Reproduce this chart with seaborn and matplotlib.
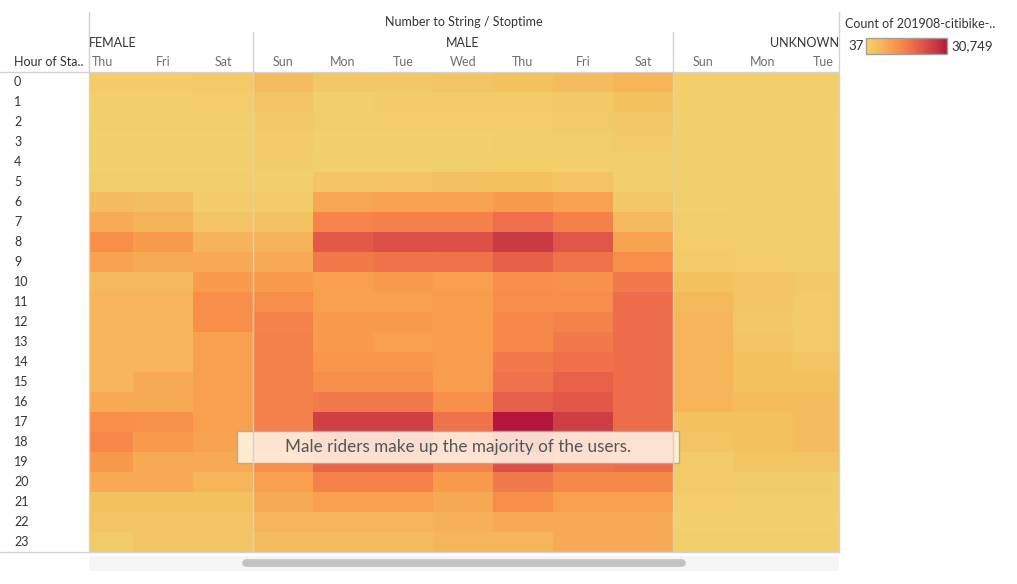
import matplotlib.pyplot as plt
import numpy as np
import pandas as pd
import seaborn as sns
from matplotlib.colors import LinearSegmentedColormap
from matplotlib.lines import Line2D
from matplotlib.patches import Rectangle

plt.rcParams['font.family'] = ['Lato', 'DejaVu Sans']

# --- data (hour of start x gender / weekday of stoptime) ---
hours = list(range(24))
days = ['Thu', 'Fri', 'Sat',
        'Sun', 'Mon', 'Tue', 'Wed', 'Thu', 'Fri', 'Sat',
        'Sun', 'Mon', 'Tue']

female = [  # Thu, Fri, Sat
    [1300, 1300, 1500], [700, 700, 1000], [600, 600, 900], [500, 500, 700],
    [500, 500, 700], [900, 900, 900], [4600, 3800, 1400], [7400, 6200, 2800],
    [12300, 10200, 6000], [8800, 7800, 7800], [5300, 5300, 10200], [5900, 5900, 12300],
    [5900, 5900, 12300], [5900, 5900, 9300], [5900, 5900, 9300], [5900, 7600, 9300],
    [7800, 7600, 9300], [12300, 12000, 9300], [13500, 10200, 8800], [10500, 7800, 7800],
    [7600, 7600, 5900], [3700, 3700, 3700], [2800, 2800, 2800], [1500, 2800, 2800],
]
male = [  # Sun, Mon, Tue, Wed, Thu, Fri, Sat
    [4600, 2300, 2300, 2800, 3700, 4600, 5900],
    [2800, 800, 1200, 1500, 1500, 1900, 3700],
    [2000, 900, 1000, 1000, 1000, 1500, 2200],
    [1500, 700, 700, 500, 900, 900, 1500],
    [1200, 600, 600, 600, 800, 800, 700],
    [700, 2800, 2800, 3500, 3700, 2800, 700],
    [1500, 8300, 8800, 8800, 10200, 8800, 2300],
    [3200, 14300, 14700, 14600, 17400, 14600, 5300],
    [6000, 20700, 22300, 22000, 26000, 21300, 8800],
    [7800, 15700, 16900, 16900, 19700, 16900, 12300],
    [10200, 9300, 10200, 9300, 12300, 11800, 15700],
    [12600, 9300, 9300, 10000, 12600, 12600, 17800],
    [14500, 10200, 10200, 10000, 13500, 14500, 17800],
    [14600, 10200, 9300, 10000, 13500, 15700, 17800],
    [14600, 11000, 11000, 10000, 15700, 17200, 17800],
    [14600, 12300, 12300, 9800, 16900, 19400, 17800],
    [14600, 15700, 15700, 12300, 19700, 21000, 17800],
    [14600, 25000, 25000, 16900, 30749, 25300, 17800],
    [14600, 23500, 23500, 15700, 26000, 20900, 17800],
    [12300, 19000, 19000, 14500, 22000, 17200, 17800],
    [9300, 14500, 14500, 10200, 15700, 13500, 13500],
    [7600, 9300, 9300, 8000, 12300, 9300, 9300],
    [5900, 5900, 5900, 6700, 7800, 7800, 7800],
    [4600, 4600, 4600, 5900, 5900, 7600, 7600],
]
unknown = [  # Sun, Mon, Tue
    [800, 650, 650], [600, 600, 600], [500, 500, 500], [400, 400, 400],
    [400, 400, 400], [400, 400, 400], [700, 600, 600], [900, 700, 700],
    [1000, 900, 900], [1300, 1000, 900], [3700, 2800, 2000], [5300, 2800, 1500],
    [5800, 2300, 1500], [5800, 2800, 1500], [5800, 3700, 2800], [5800, 3700, 3700],
    [5800, 4600, 4600], [3700, 3700, 4600], [2800, 3700, 4600], [1500, 2800, 2800],
    [1300, 1200, 1200], [1000, 900, 900], [400, 500, 500], [700, 700, 700],
]
vmin, vmax = 37, 30749

counts = np.hstack([np.array(female), np.array(male), np.array(unknown)])
df = pd.DataFrame(counts, index=hours)

cmap = LinearSegmentedColormap.from_list('redgold', [
    (0.0, '#f2d26b'), (0.15, '#f4bc5c'), (0.30, '#f8a04e'), (0.45, '#f6864a'),
    (0.58, '#ee6c4a'), (0.72, '#dc5047'), (0.85, '#ca3a44'), (1.0, '#b5173c')])

W, H = 1017, 584
fig = plt.figure(figsize=(W / 100, H / 100), dpi=100)

def fx(x):
    return x / W

def fy(y):
    return 1 - y / H

ax = fig.add_axes([fx(89), fy(552), 750 / W, 480 / H])
sns.heatmap(df, ax=ax, cmap=cmap, vmin=vmin, vmax=vmax, cbar=False,
            xticklabels=days, yticklabels=hours)
# the view is scrolled: first and last columns are partly hidden
ax.set_xlim(16 / 60, 12 + 46 / 60)
ax.set_xlabel('')
ax.set_ylabel('')
ax.xaxis.tick_top()
ax.tick_params(axis='x', length=0, pad=3, labelsize=9, labelcolor='#6e6e6e')
ax.tick_params(axis='y', length=0, pad=54, labelsize=9, labelcolor='#333333')
for t in ax.get_xticklabels():
    t.set_rotation(0)
for t in ax.get_yticklabels():
    t.set_rotation(0)
    t.set_horizontalalignment('left')

# --- headers ---
hdr = dict(fontsize=9, color='#333333', va='center')
fig.text(fx(464), fy(22), 'Number to String / Stoptime', ha='center', **hdr)
fig.text(fx(89), fy(43), 'FEMALE', ha='left', **hdr)
fig.text(fx(463), fy(43), 'MALE', ha='center', **hdr)
fig.text(fx(839), fy(43), 'UNKNOWN', ha='right', **hdr)
fig.text(fx(14), fy(62), 'Hour of Sta..', ha='left', **hdr)

# --- separator lines ---
lc = '#d2d2d2'
def line(x0, y0, x1, y1):
    fig.add_artist(Line2D([fx(x0), fx(x1)], [fy(y0), fy(y1)], color=lc, lw=1))

line(0, 72, 839, 72)
line(0, 552, 839, 552)
line(89, 12, 89, 552)
line(839, 12, 839, 552)
line(253, 32, 253, 552)
line(673, 32, 673, 552)

# --- scrollbar ---
fig.add_artist(Rectangle((fx(89), fy(571)), 750 / W, 15 / H, transform=fig.transFigure,
                         fc='#f5f5f5', ec='none'))
fig.add_artist(Line2D([fx(246), fx(682)], [fy(563), fy(563)], color='#c3c3c3',
                      lw=5.5, solid_capstyle='round'))

# --- annotation ---
fig.add_artist(Rectangle((fx(237), fy(463)), 442 / W, 32 / H, transform=fig.transFigure,
                         fc='#fff3e4', ec='#a8a8a8', lw=1, alpha=0.88))
fig.text(fx(458), fy(447), 'Male riders make up the majority of the users.',
         ha='center', va='center', fontsize=12.3, color='#555555')

# --- colour legend ---
fig.text(fx(845), fy(24), 'Count of 201908-citibike-..', ha='left', **hdr)
cax = fig.add_axes([fx(866), fy(54), 81 / W, 16 / H])
cb = fig.colorbar(ax.collections[0], cax=cax, orientation='horizontal')
cb.set_ticks([])
cb.outline.set_edgecolor('#a0a0a0')
cb.outline.set_linewidth(1)
fig.text(fx(848), fy(46), f'{vmin}', ha='left', fontsize=9.5, color='#333333', va='center')
fig.text(fx(951), fy(46), f'{vmax:,}', ha='left', fontsize=9.5, color='#333333', va='center')

fig.savefig('out.png', dpi=100)
